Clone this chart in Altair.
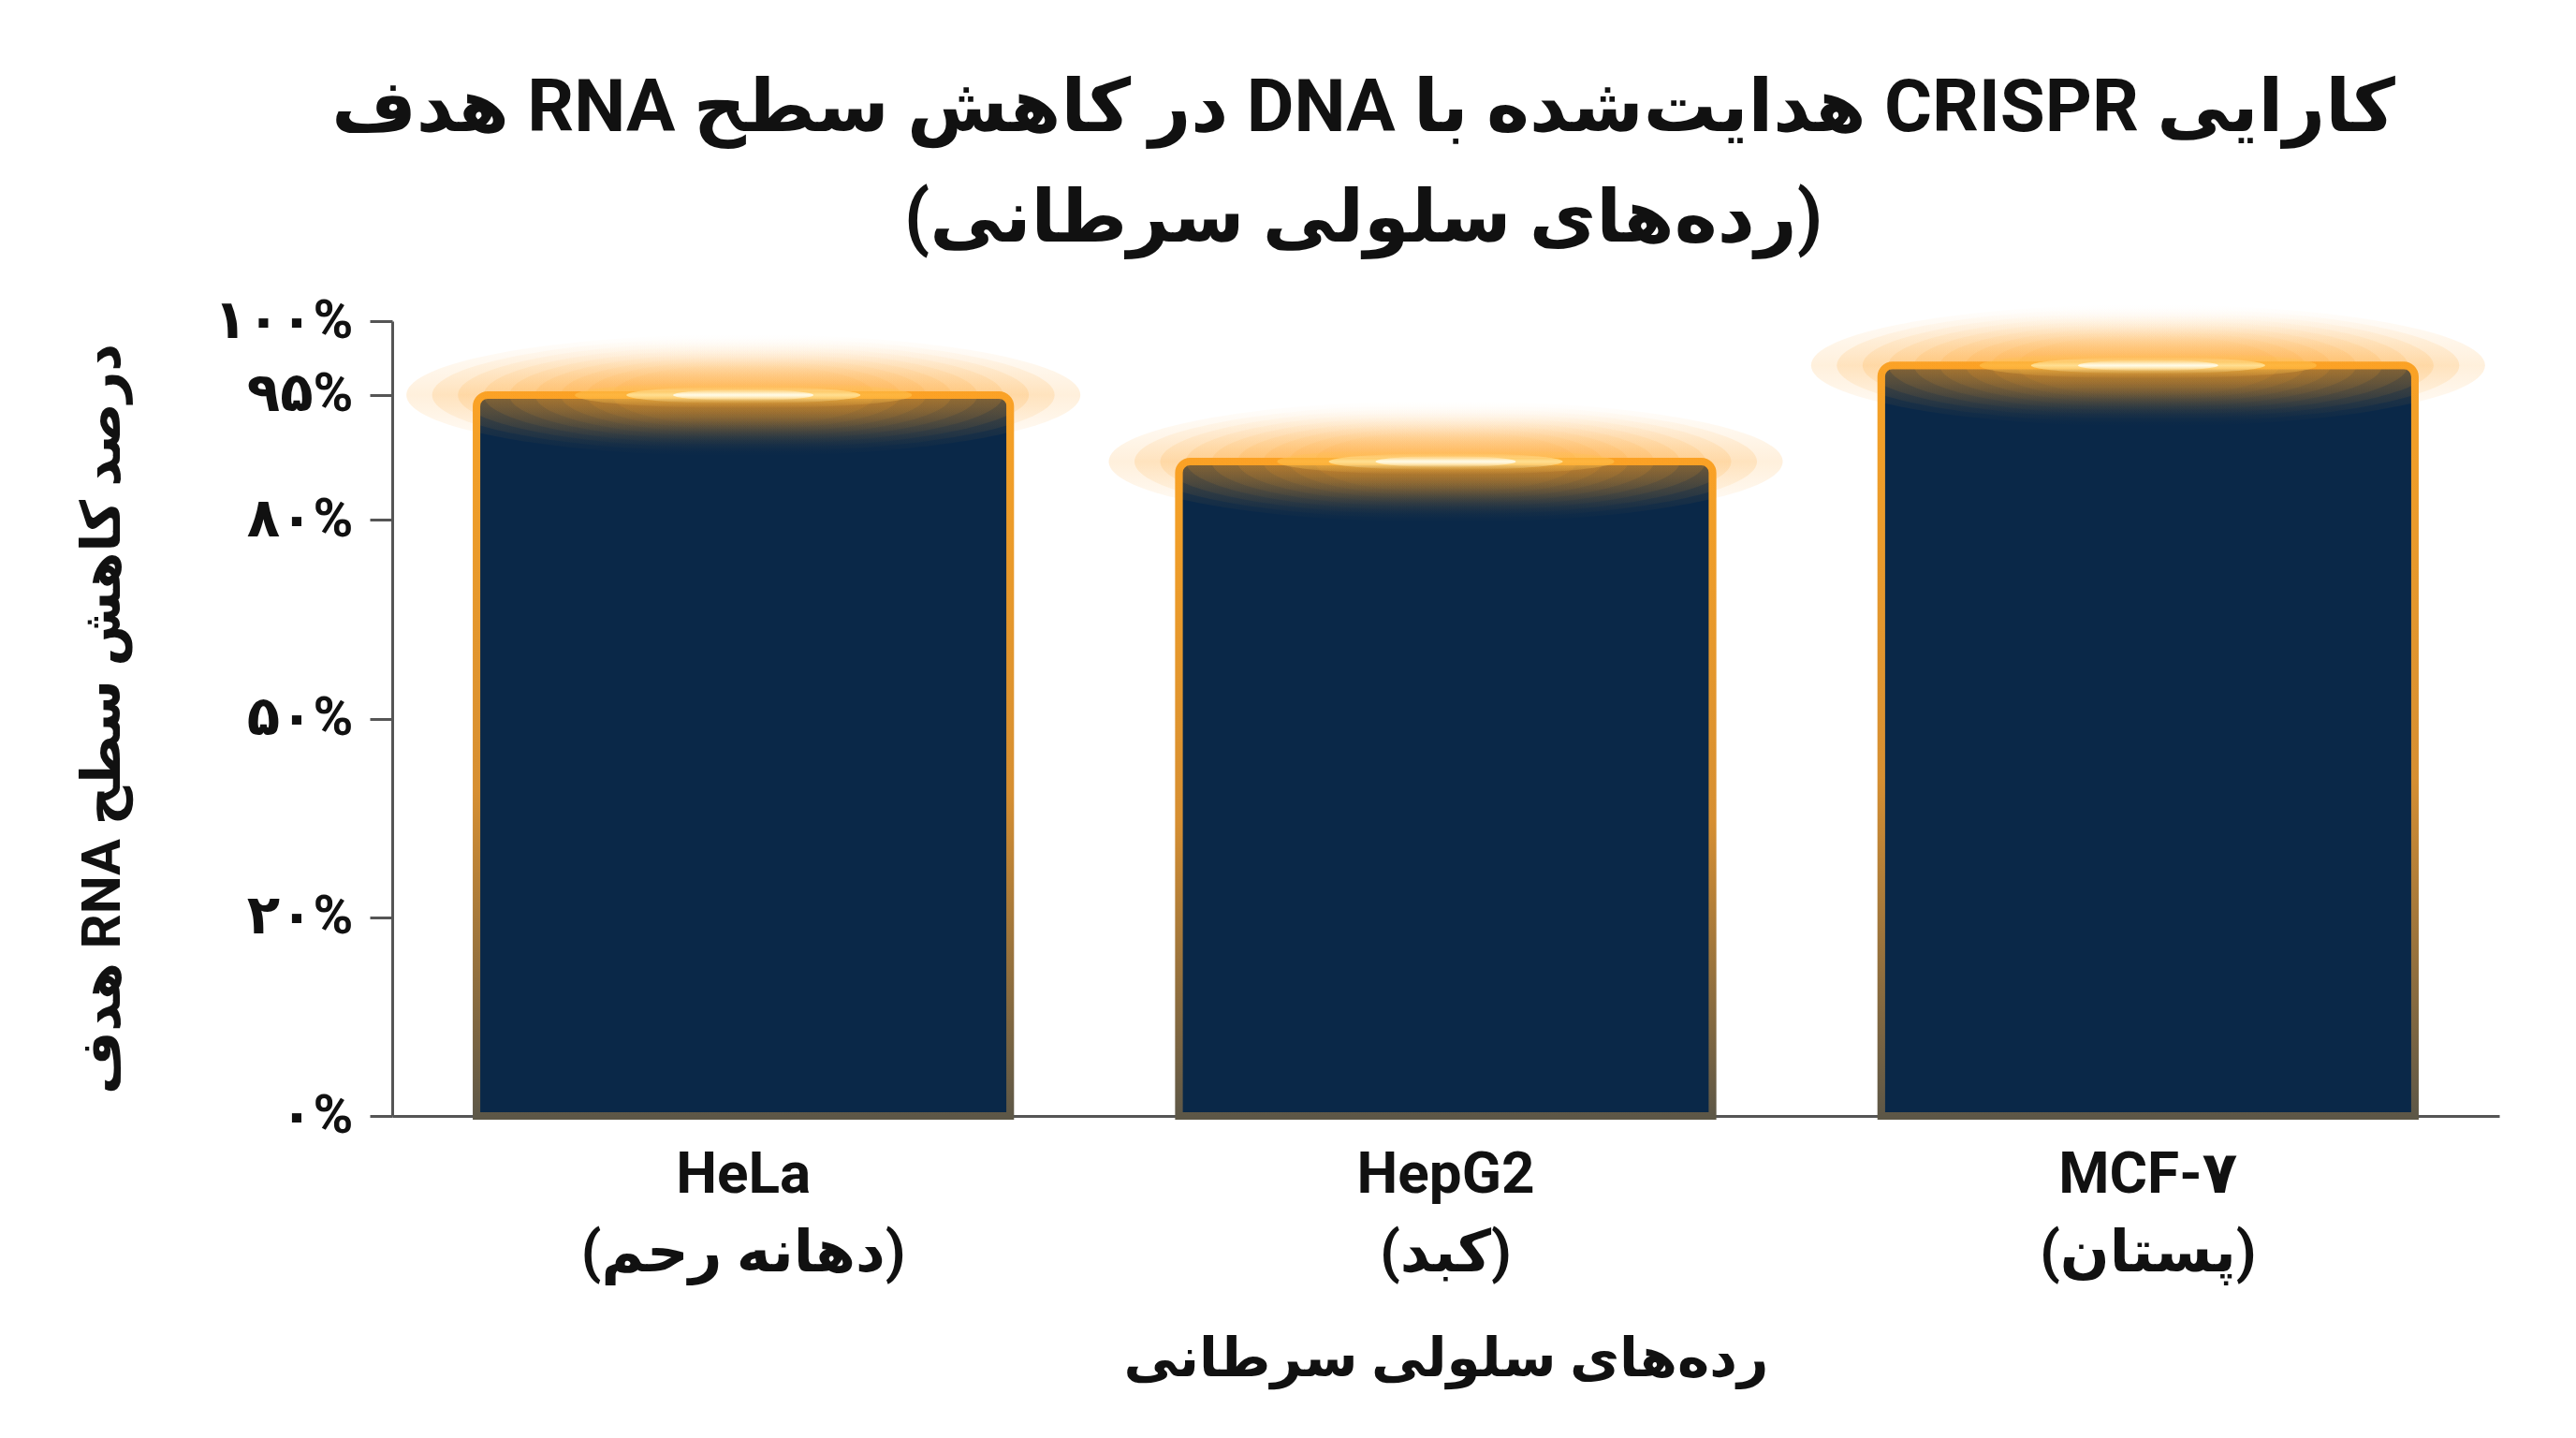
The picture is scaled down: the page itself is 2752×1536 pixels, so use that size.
import pandas as pd
import altair as alt

# Data
cell_lines = ["HeLa", "HepG2", "MCF-۷"]
tissues = ["(دهانه رحم)", "(کبد)", "(پستان)"]
knockdown = [95, 87, 97]

tick_values = [0, 20, 50, 80, 95, 100]
tick_labels = ["۰%", "۲۰%", "۵۰%", "۸۰%", "۹۵%", "۱۰۰%"]
# the y axis is not linear: each tick sits at this share of the plot height
tick_positions = [0.0, 0.25, 0.5, 0.75, 0.907, 1.0]

RLE, PDF = "\u202b", "\u202c"
title_lines = [
    RLE + "کارایی CRISPR هدایت\u200cشده با DNA در کاهش سطح RNA هدف" + PDF,
    RLE + "(رده\u200cهای سلولی سرطانی)" + PDF,
]
y_title = RLE + "درصد کاهش سطح RNA هدف" + PDF
x_title = RLE + "رده\u200cهای سلولی سرطانی" + PDF

df = pd.DataFrame({"cell": cell_lines, "tissue": tissues, "value": knockdown})

W, H = 2251, 849
FONT = "Roboto, DejaVu Sans"
NAVY = "#0a2848"

y_expr = " : ".join(
    f"datum.value == {v} ? '{l}'" for v, l in zip(tick_values, tick_labels)
) + " : ''"
x_expr = " : ".join(
    f"datum.value == '{c}' ? ['{c}', '{RLE}{t}{PDF}']" for c, t in zip(cell_lines, tissues)
) + " : datum.label"

x_enc = alt.X(
    "cell:N",
    sort=cell_lines,
    title=x_title,
    scale=alt.Scale(paddingInner=0.24, paddingOuter=0.12),
    axis=alt.Axis(
        labelAngle=0,
        labelExpr=x_expr,
        labelFont=FONT,
        labelFontSize=62,
        labelFontWeight="bold",
        labelColor="#111111",
        labelLineHeight=84,
        labelPadding=32,
        labelLimit=2000,
        ticks=False,
        domainColor="#555555",
        domainWidth=3,
        titleFont=FONT,
        titleFontSize=58,
        titleFontWeight="bold",
        titleColor="#111111",
        titlePadding=54,
    ),
)
y_enc = alt.Y(
    "value:Q",
    title=y_title,
    scale=alt.Scale(
        domain=tick_values,
        range=[H * (1 - p) for p in tick_positions],
        nice=False,
        zero=False,
    ),
    axis=alt.Axis(
        values=tick_values,
        labelExpr=y_expr,
        labelFont=FONT,
        labelFontSize=58,
        labelFontWeight="bold",
        labelColor="#111111",
        labelPadding=18,
        labelLimit=2000,
        tickSize=24,
        tickWidth=3,
        tickColor="#555555",
        domainColor="#555555",
        domainWidth=3,
        grid=False,
        titleFont=FONT,
        titleFontSize=58,
        titleFontWeight="bold",
        titleColor="#111111",
        titlePadding=88,
    ),
)

base = alt.Chart(df).encode(x=x_enc, y=y_enc)

bar_stroke = alt.LinearGradient(
    gradient="linear", x1=0, y1=0, x2=0, y2=1,
    stops=[
        alt.GradientStop(offset=0, color="#f7a226"),
        alt.GradientStop(offset=0.55, color="#d68f32"),
        alt.GradientStop(offset=1, color="#5d5747"),
    ],
)
bars = base.mark_bar(
    fill=NAVY,
    stroke=bar_stroke,
    strokeWidth=8,
    cornerRadiusTopLeft=12,
    cornerRadiusTopRight=12,
)


def glow_fill(rgb, alpha):
    return alt.LinearGradient(
        gradient="linear", x1=0, y1=0, x2=0, y2=1,
        stops=[
            alt.GradientStop(offset=0, color=f"rgba({rgb},0)"),
            alt.GradientStop(offset=0.5, color=f"rgba({rgb},{alpha})"),
            alt.GradientStop(offset=1, color=f"rgba({rgb},0)"),
        ],
    )


# soft orange glow on the top edge of every bar, built from many faint ellipses
# (width px, height px, colour, opacity)
glow_layers = [(720 - 55 * i, 130 - 8 * i, "255,160,35", 0.16) for i in range(9)]
glow_layers += [
    (360, 28, "255,195,80", 0.6),
    (250, 18, "255,230,160", 0.85),
    (150, 12, "255,252,235", 0.95),
]
glows = []
for w, h, rgb, op in glow_layers:
    r = round(h / w, 4)
    shape = f"M -1 0 A 1 {r} 0 1 1 1 0 A 1 {r} 0 1 1 -1 0 Z"
    glows.append(
        base.mark_point(
            shape=shape,
            size=w * w,
            filled=True,
            fill=glow_fill(rgb, 1),
            strokeWidth=0,
            opacity=op,
        )
    )

chart = (
    alt.layer(bars, *glows)
    .properties(
        width=W,
        height=H,
        background="white",
        autosize=alt.AutoSizeParams(type="none"),
        padding={"left": 411, "top": 335, "right": 70, "bottom": 330},
        title=alt.Title(
            text=title_lines,
            font=FONT,
            fontSize=78,
            fontWeight="bold",
            color="#111111",
            anchor="middle",
            dx=-88,
            lineHeight=118,
            offset=40,
        ),
    )
    .configure_view(stroke="transparent", strokeWidth=0)
)

chart.save("out.html", embed_options={"renderer": "svg", "actions": False})
